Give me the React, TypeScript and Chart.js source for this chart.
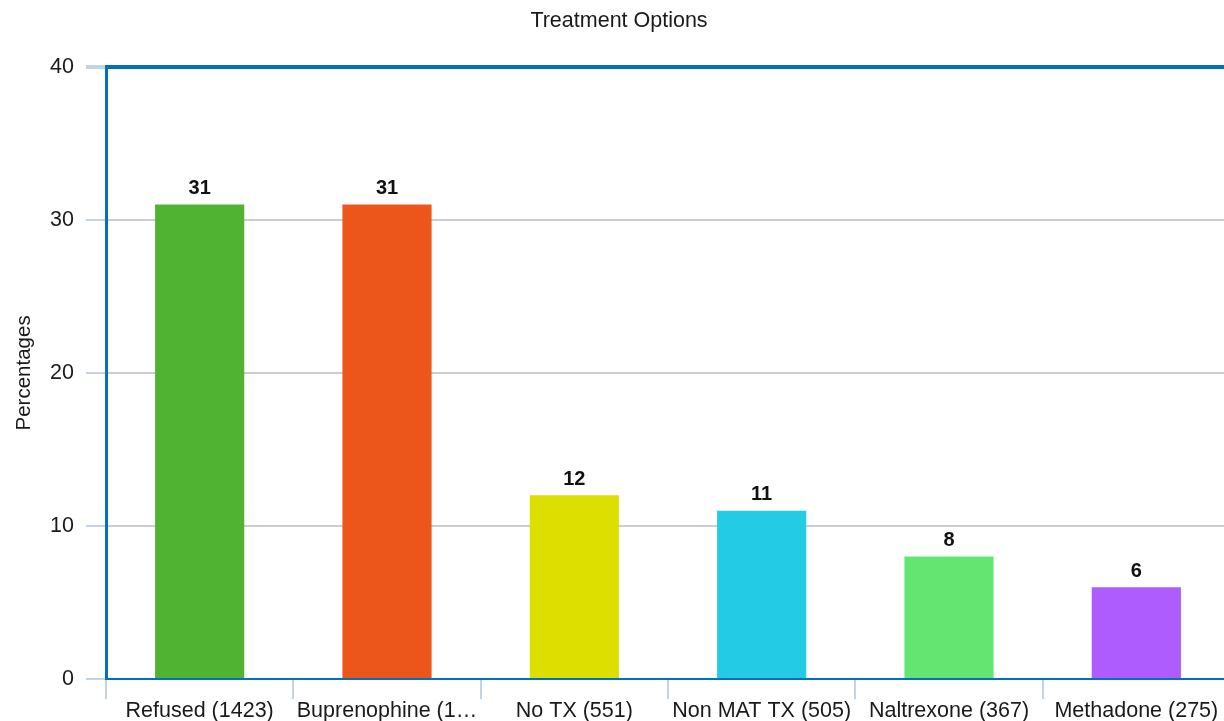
import React, { useEffect, useRef } from "react";
import { Chart, registerables } from "chart.js";

Chart.register(...registerables);

const categories = [
  "Refused (1423)",
  "Buprenophine (1…",
  "No TX (551)",
  "Non MAT TX (505)",
  "Naltrexone (367)",
  "Methadone (275)",
];
const percentages = [31, 31, 12, 11, 8, 6];
const barColors = ["#50B432", "#ED561B", "#DDDF00", "#24CBE5", "#64E572", "#AF5CFF"];
const yTicks = [0, 10, 20, 30, 40];

const FONT = "'Liberation Sans', Arial, sans-serif";

const valueLabels = {
  id: "valueLabels",
  afterDatasetsDraw(chart: any) {
    const ctx = chart.ctx;
    const meta = chart.getDatasetMeta(0);
    const data = chart.data.datasets[0].data;
    ctx.save();
    ctx.font = `bold 20px ${FONT}`;
    ctx.fillStyle = "#111";
    ctx.textAlign = "center";
    ctx.textBaseline = "bottom";
    meta.data.forEach((bar: any, i: number) => {
      ctx.fillText(String(data[i]), bar.x, bar.y - 6);
    });
    ctx.restore();
  },
};

export default function App() {
  const ref = useRef<HTMLCanvasElement | null>(null);
  useEffect(() => {
    if (!ref.current) return;
    const chart = new Chart(ref.current, {
      type: "bar",
      data: {
        labels: categories,
        datasets: [
          {
            data: percentages,
            backgroundColor: barColors,
            borderWidth: 0,
            categoryPercentage: 1,
            barPercentage: 0.476,
          },
        ],
      },
      options: {
        animation: false,
        responsive: true,
        maintainAspectRatio: false,
        layout: { padding: { left: 8, right: 0, top: 0, bottom: 0 } },
        plugins: {
          legend: { display: false },
          tooltip: { enabled: false },
          title: {
            display: true,
            text: "Treatment Options",
            color: "#1a1a1a",
            font: { family: FONT, size: 21.5, weight: "normal" },
            padding: { top: 8, bottom: 33 },
          },
        },
        scales: {
          x: {
            afterFit: (s: any) => {
              s.height = 42;
            },
            grid: {
              offset: true,
              drawOnChartArea: false,
              tickLength: 20,
              tickColor: "#c4d2e2",
              lineWidth: 2,
            },
            border: { color: "#0070C0", width: 2 },
            ticks: {
              color: "#1a1a1a",
              font: { family: FONT, size: 21.5 },
              padding: -1,
              maxRotation: 0,
              autoSkip: false,
            },
          },
          y: {
            min: 0,
            max: 40,
            afterFit: (s: any) => {
              s.width = 98;
            },
            afterBuildTicks: (s: any) => {
              s.ticks = yTicks.map((v) => ({ value: v }));
            },
            grid: {
              color: (c: any) => (c.tick && c.tick.value === 40 ? "#0070C0" : "#cccccc"),
              lineWidth: (c: any) => (c.tick && c.tick.value === 40 ? 4 : 2),
              tickLength: 20,
              tickColor: "#c4d2e2",
            },
            border: { color: "#0070C0", width: 3 },
            ticks: {
              color: "#1a1a1a",
              font: { family: FONT, size: 21.5 },
              padding: 12,
            },
            title: {
              display: true,
              text: "Percentages",
              color: "#1a1a1a",
              font: { family: FONT, size: 20.5 },
              padding: { top: 4, bottom: 10 },
            },
          },
        },
      },
      plugins: [valueLabels],
    });
    return () => chart.destroy();
  }, []);
  return (
    <div style={{ position: "fixed", left: 0, top: 0, width: 1224, height: 721, overflow: "hidden", background: "#fff" }}>
      <div style={{ position: "relative", width: 1230, height: 721 }}>
        <canvas ref={ref} />
      </div>
    </div>
  );
}
